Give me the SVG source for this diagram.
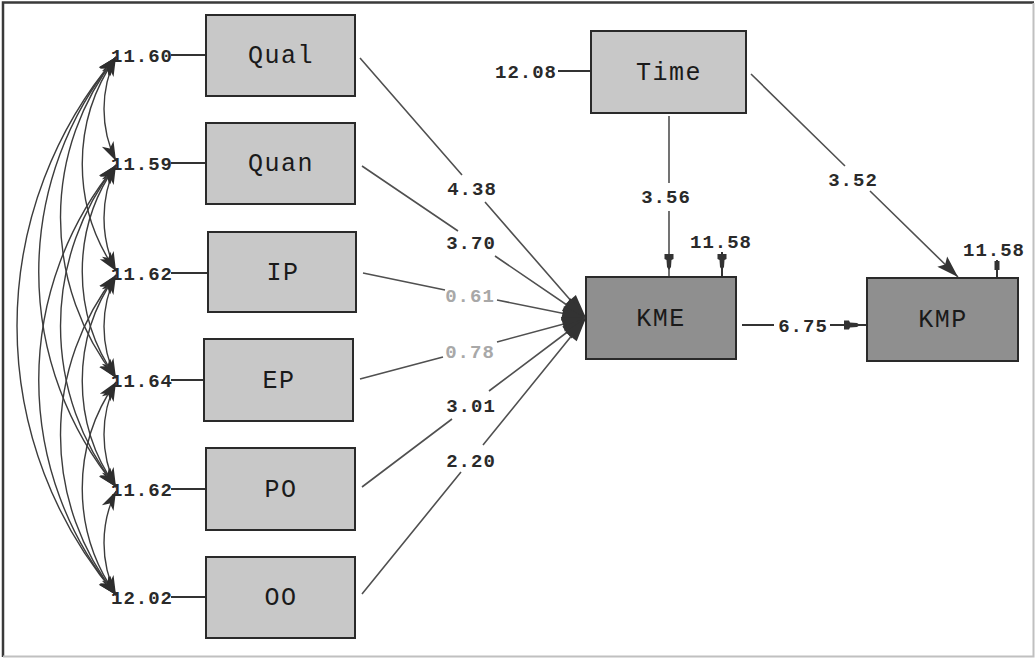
<svg xmlns="http://www.w3.org/2000/svg" width="1035" height="658" viewBox="0 0 1035 658">
<defs>
<style>
.box{stroke:#2a2a2a;stroke-width:2}
.lt{fill:#c8c8c8}
.dk{fill:#8f8f8f}
.nl{font-family:"Liberation Mono","Courier New",monospace;font-size:25px;letter-spacing:1.5px;fill:#1a1a1a;text-anchor:middle}
.num{font-family:"Liberation Mono","Courier New",monospace;font-size:19px;font-weight:bold;letter-spacing:1px;fill:#2a2a2a;text-anchor:middle}
.pale{fill:#a8a8a8}
.ln{fill:none;stroke:#505050;stroke-width:1.6}
.er{fill:none;stroke:#333;stroke-width:2}
.cv{fill:none;stroke:#3c3c3c;stroke-width:1.4}
</style>
<marker id="big" markerUnits="userSpaceOnUse" markerWidth="26" markerHeight="18" refX="24" refY="9" orient="auto" overflow="visible">
<path d="M0,1.5 L24,9 L0,16.5 Z" fill="#333"/>
</marker>
<marker id="tri" markerUnits="userSpaceOnUse" markerWidth="24" markerHeight="16" refX="22" refY="8" orient="auto" overflow="visible">
<path d="M0,1 L22,8 L0,15 L4,8 Z" fill="#333"/>
</marker>
<marker id="nail" markerUnits="userSpaceOnUse" markerWidth="26" markerHeight="10" refX="23" refY="5" orient="auto" overflow="visible">
<path d="M0,0.5 L5,0.5 L6,2.5 L13,3 L16,5 L13,7 L6,7.5 L5,9.5 L0,9.5 Z" fill="#333"/>
</marker>
<marker id="nub" markerUnits="userSpaceOnUse" markerWidth="18" markerHeight="6" refX="17" refY="3" orient="auto" overflow="visible">
<path d="M0,0.5 L9,0.5 L9,5.5 L0,5.5 Z" fill="#333"/>
</marker>
<marker id="cvh" markerUnits="userSpaceOnUse" markerWidth="20" markerHeight="14" refX="19" refY="7" orient="auto-start-reverse" overflow="visible">
<path d="M0,0.5 L19,7 L0,13.5 L5,7 Z" fill="#2e2e2e"/>
</marker>
</defs>

<rect x="0" y="0" width="1035" height="658" fill="#ffffff"/>
<path d="M3,657 L3,2.5 L1034,2.5" fill="none" stroke="#3a3a3a" stroke-width="2.5"/>
<path d="M3,656.5 L1033.5,656.5 L1033.5,3" fill="none" stroke="#c0c0c0" stroke-width="2"/>

<g id="connectors">
<g id="covariances">
<path class="cv" marker-start="url(#cvh)" marker-end="url(#cvh)" d="M116,57 A118.7,118.7 0 0 0 116,161"/>
<path class="cv" marker-start="url(#cvh)" marker-end="url(#cvh)" d="M116,165 A123,123 0 0 0 116,271"/>
<path class="cv" marker-start="url(#cvh)" marker-end="url(#cvh)" d="M116,275 A116.5,116.5 0 0 0 116,378"/>
<path class="cv" marker-start="url(#cvh)" marker-end="url(#cvh)" d="M116,382 A120.8,120.8 0 0 0 116,487"/>
<path class="cv" marker-start="url(#cvh)" marker-end="url(#cvh)" d="M116,491 A118.7,118.7 0 0 0 116,595"/>
<path class="cv" marker-start="url(#cvh)" marker-end="url(#cvh)" d="M116,57 A186.5,186.5 0 0 0 116,271"/>
<path class="cv" marker-start="url(#cvh)" marker-end="url(#cvh)" d="M116,165 A184.9,184.9 0 0 0 116,378"/>
<path class="cv" marker-start="url(#cvh)" marker-end="url(#cvh)" d="M116,275 A183.3,183.3 0 0 0 116,487"/>
<path class="cv" marker-start="url(#cvh)" marker-end="url(#cvh)" d="M116,382 A184.9,184.9 0 0 0 116,595"/>
<path class="cv" marker-start="url(#cvh)" marker-end="url(#cvh)" d="M116,57 A259.8,259.8 0 0 0 116,378"/>
<path class="cv" marker-start="url(#cvh)" marker-end="url(#cvh)" d="M116,165 A261.3,261.3 0 0 0 116,487"/>
<path class="cv" marker-start="url(#cvh)" marker-end="url(#cvh)" d="M116,275 A258.4,258.4 0 0 0 116,595"/>
<path class="cv" marker-start="url(#cvh)" marker-end="url(#cvh)" d="M116,57 A337.8,337.8 0 0 0 116,487"/>
<path class="cv" marker-start="url(#cvh)" marker-end="url(#cvh)" d="M116,165 A337.8,337.8 0 0 0 116,595"/>
<path class="cv" marker-start="url(#cvh)" marker-end="url(#cvh)" d="M116,57 A415,415 0 0 0 116,595"/>
</g>
<g id="error-lines">
<path class="er" d="M171,55 L206,55"/>
<path class="er" d="M171,163 L206,163"/>
<path class="er" d="M171,273 L208,273"/>
<path class="er" d="M171,380 L204,380"/>
<path class="er" d="M171,489 L206,489"/>
<path class="er" d="M171,597 L206,597"/>
<path class="er" d="M558,71 L591,71"/>
<path class="er" marker-end="url(#nail)" d="M722,252 L722,277"/>
<path class="er" marker-end="url(#nub)" d="M997,260 L997,278"/>
</g>
<g id="paths">
<path class="ln" marker-end="url(#big)" d="M360,58 L462,175 M485,202 L586,318"/>
<path class="ln" marker-end="url(#big)" d="M362,166 L458,231 M495,256 L586,318"/>
<path class="ln" marker-end="url(#big)" d="M363,273 L445,290 M497,300 L586,318"/>
<path class="ln" marker-end="url(#big)" d="M360,379 L443,357 M497,342 L586,318"/>
<path class="ln" marker-end="url(#big)" d="M362,487 L452,419 M489,391 L586,318"/>
<path class="ln" marker-end="url(#big)" d="M362,594 L461,472 M483,445 L586,318"/>
<path class="ln" marker-end="url(#nail)" d="M669,116 L669,183 M669,211 L669,277"/>
<path class="ln" marker-end="url(#tri)" d="M751,74 L845,166 M870,191 L958,277"/>
<path class="er" marker-end="url(#nail)" d="M742,325 L774,325 M830,325 L867,325"/>
</g>
</g>

<g id="labels">
<text class="num" x="142" y="62">11.60</text>
<text class="num" x="142" y="170">11.59</text>
<text class="num" x="142" y="280">11.62</text>
<text class="num" x="142" y="387">11.64</text>
<text class="num" x="142" y="496">11.62</text>
<text class="num" x="142" y="604">12.02</text>
<text class="num" x="526" y="78">12.08</text>
<text class="num" x="472" y="195">4.38</text>
<text class="num" x="471" y="249">3.70</text>
<text class="num pale" x="470" y="302">0.61</text>
<text class="num pale" x="470" y="358">0.78</text>
<text class="num" x="471" y="412">3.01</text>
<text class="num" x="471" y="467">2.20</text>
<text class="num" x="666" y="203">3.56</text>
<text class="num" x="721" y="248">11.58</text>
<text class="num" x="994" y="256">11.58</text>
<text class="num" x="853" y="186">3.52</text>
<text class="num" x="803" y="332">6.75</text>
</g>

<g id="Qual"><rect class="box lt" x="206" y="15" width="149" height="81"/><text class="nl" x="281" y="63">Qual</text></g>
<g id="Quan"><rect class="box lt" x="206" y="123" width="149" height="81"/><text class="nl" x="281" y="171">Quan</text></g>
<g id="IP"><rect class="box lt" x="208" y="232" width="148" height="80"/><text class="nl" x="283" y="280">IP</text></g>
<g id="EP"><rect class="box lt" x="204" y="339" width="149" height="82"/><text class="nl" x="279" y="388">EP</text></g>
<g id="PO"><rect class="box lt" x="206" y="448" width="149" height="82"/><text class="nl" x="281" y="497">PO</text></g>
<g id="OO"><rect class="box lt" x="206" y="557" width="149" height="81"/><text class="nl" x="281" y="605">OO</text></g>
<g id="Time"><rect class="box lt" x="591" y="31" width="155" height="82"/><text class="nl" x="669" y="80">Time</text></g>
<g id="KME"><rect class="box dk" x="586" y="277" width="150" height="82"/><text class="nl" x="661" y="326">KME</text></g>
<g id="KMP"><rect class="box dk" x="867" y="278" width="151" height="83"/><text class="nl" x="943" y="327">KMP</text></g>
</svg>
